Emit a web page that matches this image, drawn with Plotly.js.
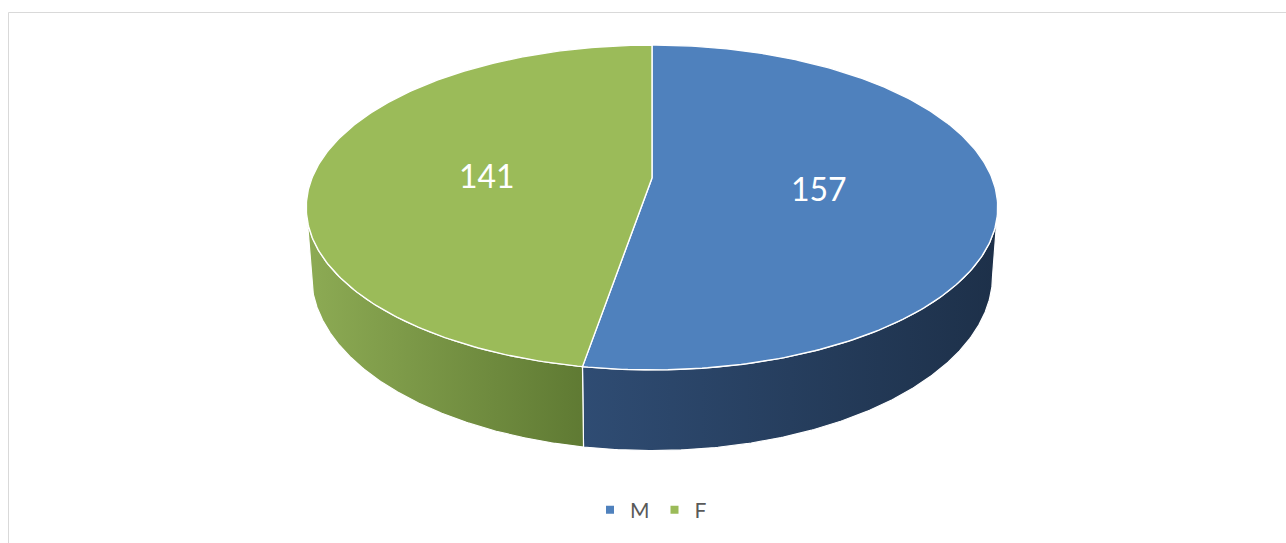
<!DOCTYPE html>
<html><head><meta charset="utf-8">
<script src="https://cdn.plot.ly/plotly-3.0.1.min.js"></script>
<style>html,body{margin:0;padding:0;background:#fff;}#chart{width:1286px;height:543px;}</style>
</head><body><div id="chart"></div>
<script>
// ---- data ----
const categories = ['M', 'F'];
const values = [157, 141];
const labels = ['157', '141'];
const topColors = ['#4F81BD', '#9BBB59'];
const sideColorsLeft = ['#2F4C73', '#8DAB54'];
const sideColorsRight = ['#1D3049', '#5F7A33'];

// ---- 3D perspective geometry (pixel space) ----
const G = {cx: 652, cy: 178, a: 340, b: 157.1, k: 0.1815, H: 66, s: 0.985};
function topPt(th, r) {
  r = (r === undefined) ? 1 : r;
  const X = r * Math.sin(th), w = r * Math.cos(th), d = 1 + G.k * w;
  return [G.cx + G.a * X / d, G.cy - G.b * w / d];
}
function botPt(th) {
  const X = Math.sin(th), w = Math.cos(th), d = 1 + G.k * w;
  return [G.cx + G.s * G.a * X / d, G.cy + (-G.b * w + G.H) / d];
}

const total = values.reduce((p, c) => p + c, 0);
const visLo = Math.acos(-G.k), visHi = 2 * Math.PI - Math.acos(-G.k);
const sideTraces = [], topTraces = [];
const annotations = [];
let acc = 0;
values.forEach((v, i) => {
  const a0 = acc / total * 2 * Math.PI;
  acc += v;
  const a1 = acc / total * 2 * Math.PI;
  // top slice
  const tx = [G.cx], ty = [G.cy];
  const n = 240;
  for (let j = 0; j <= n; j++) {
    const p = topPt(a0 + (a1 - a0) * j / n);
    tx.push(p[0]); ty.push(p[1]);
  }
  tx.push(G.cx); ty.push(G.cy);
  topTraces.push({x: tx, y: ty, type: 'scatter', mode: 'lines', fill: 'toself',
    fillcolor: topColors[i], line: {color: '#FFFFFF', width: 1.4}, hoverinfo: 'skip', showlegend: false});
  // side
  const lo = Math.max(a0, visLo), hi = Math.min(a1, visHi);
  if (hi > lo) {
    const sx = [], sy = [];
    for (let j = 0; j <= n; j++) { const p = topPt(lo + (hi - lo) * j / n); sx.push(p[0]); sy.push(p[1]); }
    for (let j = n; j >= 0; j--) { const p = botPt(lo + (hi - lo) * j / n); sx.push(p[0]); sy.push(p[1]); }
    sx.push(sx[0]); sy.push(sy[0]);
    const xmin = Math.min(...sx), xmax = Math.max(...sx);
    sideTraces.push({x: sx, y: sy, type: 'scatter', mode: 'lines', fill: 'toself',
      fillgradient: {type: 'horizontal', start: xmin, stop: xmax,
        colorscale: [[0, sideColorsLeft[i]], [1, sideColorsRight[i]]]},
      line: {color: '#FFFFFF', width: 1.2}, hoverinfo: 'skip', showlegend: false});
  }
  const mid = (a0 + a1) / 2;
  const lp = topPt(mid, 0.49);
  annotations.push({x: lp[0], y: lp[1], xref: 'x', yref: 'y', text: labels[i], showarrow: false,
    xanchor: 'center', yanchor: 'middle', yshift: -4,
    font: {family: 'Lato, "Open Sans", sans-serif', size: 32, color: '#FFFFFF'}});
});

const legendTraces = categories.map((c, i) => ({
  x: [null], y: [null], type: 'scatter', mode: 'markers', name: c,
  marker: {symbol: 'square', size: 8, color: topColors[i]}
}));

const layout = {
  width: 1286, height: 543,
  margin: {l: 0, r: 0, t: 0, b: 0},
  paper_bgcolor: '#FFFFFF', plot_bgcolor: '#FFFFFF',
  xaxis: {range: [0, 1286], visible: false, fixedrange: true},
  yaxis: {range: [543, 0], visible: false, fixedrange: true},
  showlegend: true,
  legend: {orientation: 'h', x: 0.5 + 8 / 1286, xanchor: 'center', y: 1 - 510 / 543, yanchor: 'middle',
    font: {family: 'Lato, "Open Sans", sans-serif', size: 21, color: '#595959'},
    itemwidth: 30, traceorder: 'normal', bgcolor: 'rgba(0,0,0,0)'},
  annotations: annotations,
  shapes: [{type: 'rect', xref: 'paper', yref: 'paper', x0: 8.5 / 1286, x1: 1.01, y0: -0.02, y1: 1 - 12.5 / 543,
    line: {color: '#D9D9D9', width: 1}, fillcolor: 'rgba(0,0,0,0)', layer: 'below'}]
};

Plotly.newPlot('chart', sideTraces.concat(topTraces, legendTraces), layout,
  {displayModeBar: false, staticPlot: true});
</script></body></html>
